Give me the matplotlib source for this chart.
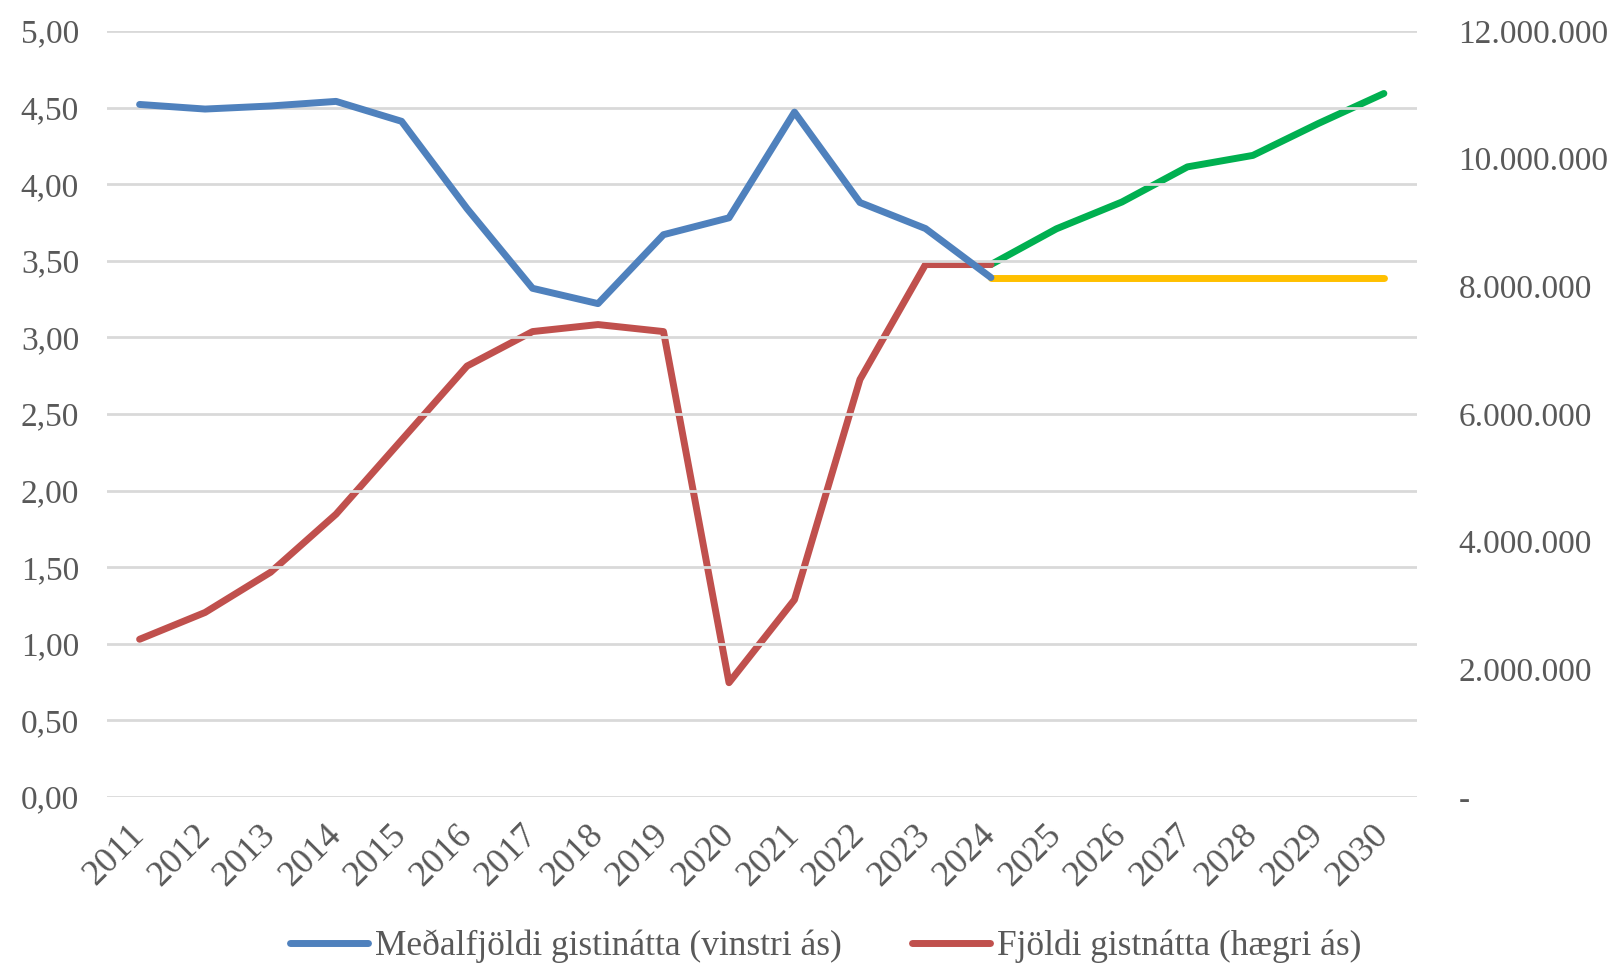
import matplotlib
matplotlib.use("Agg")
import matplotlib.pyplot as plt
import matplotlib.transforms as mtransforms
from matplotlib.ticker import FuncFormatter, MultipleLocator
from matplotlib.lines import Line2D

plt.rcParams["font.family"] = ["Liberation Serif", "DejaVu Serif"]

years = [str(y) for y in range(2011, 2031)]

# Meðalfjöldi gistinátta (vinstri ás), 2011-2024
avg_nights = [4.52, 4.49, 4.51, 4.54, 4.41, 3.84, 3.32, 3.22, 3.67, 3.78,
              4.47, 3.88, 3.71, 3.39]
# Fjöldi gistnátta (hægri ás), 2011-2024
total_nights = [2.47e6, 2.89e6, 3.52e6, 4.43e6, 5.59e6, 6.75e6, 7.29e6,
                7.40e6, 7.29e6, 1.79e6, 3.09e6, 6.54e6, 8.34e6, 8.34e6]
# Framreikningur 2024-2030
proj_total = [8.34e6, 8.90e6, 9.32e6, 9.87e6, 10.05e6, 10.55e6, 11.02e6]
proj_avg = [3.39, 3.39, 3.39, 3.39, 3.39, 3.39, 3.39]

BLUE = "#4f81bd"
RED = "#c0504d"
GREEN = "#00b050"
YELLOW = "#ffc000"
GREY = "#595959"

fig = plt.figure(figsize=(16.19, 9.66), dpi=100)
ax = fig.add_axes([0.066, 0.175, 0.809, 0.793])
ax2 = ax.twinx()
ax.set_zorder(ax2.get_zorder() + 1)
ax.patch.set_visible(False)

x_hist = list(range(len(avg_nights)))
x_proj = list(range(len(avg_nights) - 1, len(years)))

lw = 5
ax2.plot(x_proj, proj_total, color=GREEN, lw=lw, solid_capstyle="round")
ax2.plot(x_hist, total_nights, color=RED, lw=lw, solid_capstyle="round")
ax.plot(x_proj, proj_avg, color=YELLOW, lw=lw, solid_capstyle="round")
ax.plot(x_hist, avg_nights, color=BLUE, lw=lw, solid_capstyle="round")

ax.set_xlim(-0.5, len(years) - 0.5)
ax.set_ylim(0, 5)
ax2.set_ylim(0, 12e6)
ax.yaxis.set_major_locator(MultipleLocator(0.5))
ax2.yaxis.set_major_locator(MultipleLocator(2e6))
ax.yaxis.set_major_formatter(FuncFormatter(lambda v, p: f"{v:.2f}".replace(".", ",")))
ax2.yaxis.set_major_formatter(FuncFormatter(
    lambda v, p: "-" if v == 0 else f"{int(round(v)):,}".replace(",", ".")))

ax.set_xticks(range(len(years)))
ax.set_xticklabels(years, rotation=45, ha="right", va="center",
                   rotation_mode="anchor", fontsize=26)
shift = mtransforms.ScaledTranslation(8 / 72, 0, fig.dpi_scale_trans)
for lab in ax.get_xticklabels():
    lab.set_transform(lab.get_transform() + shift)

ax.grid(axis="y", color="#d9d9d9", lw=2)
ax.set_axisbelow(True)
for a in (ax, ax2):
    for s in a.spines.values():
        s.set_visible(False)
ax.tick_params(axis="both", length=0, labelcolor=GREY)
ax.tick_params(axis="y", pad=20, labelsize=24)
ax.tick_params(axis="x", pad=24)
ax2.tick_params(axis="y", length=0, labelsize=24, labelcolor=GREY, pad=30)

handles = [Line2D([0], [0], color=BLUE, lw=lw, solid_capstyle="round"),
           Line2D([0], [0], color=RED, lw=lw, solid_capstyle="round")]
labels = ["Meðalfjöldi gistinátta (vinstri ás)", "Fjöldi gistnátta (hægri ás)"]
leg = fig.legend(handles, labels, loc="lower center", bbox_to_anchor=(0.51, -0.03),
                 ncol=2, frameon=False, fontsize=25.5, handlelength=2.2,
                 columnspacing=2.0, handletextpad=0.2)
for t in leg.get_texts():
    t.set_color(GREY)

fig.savefig("out.png", dpi=100)
